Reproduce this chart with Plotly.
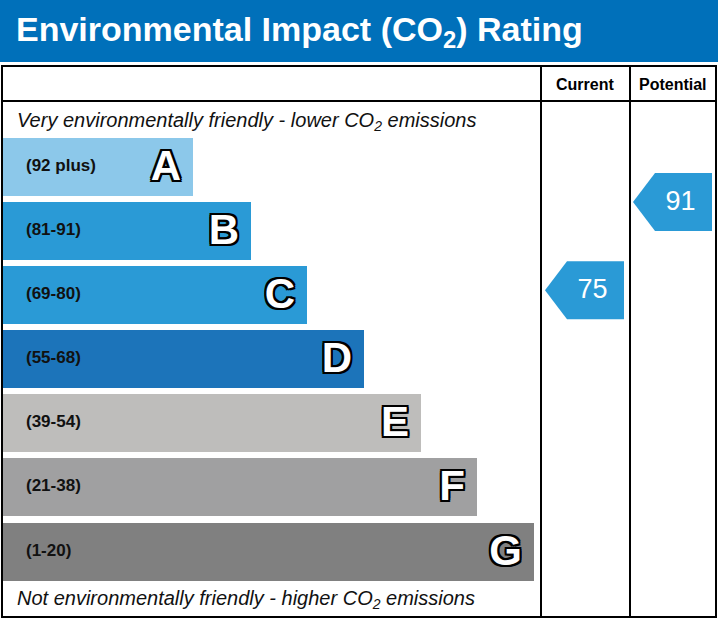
import plotly.graph_objects as go

bands = ["A", "B", "C", "D", "E", "F", "G"]
ranges = ["(92 plus)", "(81-91)", "(69-80)", "(55-68)", "(39-54)", "(21-38)", "(1-20)"]
lows = [92, 81, 69, 55, 39, 21, 1]
highs = [100, 91, 80, 68, 54, 38, 20]
band_colors = ["#8CC8EA", "#2A9AD6", "#2A9AD6", "#1C74BA", "#BEBDBB", "#A0A0A1", "#808080"]
current = 75
potential = 91

W, H = 718, 619
x0 = 2
tops = [138, 202, 266, 330, 394, 458, 523]
bh = 58
ends = [193, 251, 307, 364, 421, 477, 534]

fig = go.Figure()
centers = [t + bh / 2 for t in tops]
fig.add_trace(go.Bar(orientation="h", y=centers, x=[e - x0 for e in ends], base=x0, width=bh,
                     marker=dict(color=band_colors, line=dict(width=0)), hoverinfo="skip"))
fig.add_trace(go.Scatter(x=[26] * 7, y=centers, mode="text", text=ranges, textposition="middle right",
                         textfont=dict(family="Liberation Sans", size=17, color="#111", weight="bold")))
outline = ",".join(f"{dx}px {dy}px 0 #000" for dx in (-2, 0, 2) for dy in (-2, 0, 2) if dx or dy)
fig.add_trace(go.Scatter(x=[e - 12 for e in ends], y=[c + 2 for c in centers], mode="text", text=bands,
                         textposition="middle left",
                         textfont=dict(family="Liberation Sans", size=42, color="white", weight="bold", shadow=outline)))

def ypos(v):
    for lo, hi, t in zip(lows, highs, tops):
        if lo <= v <= hi:
            return t + (hi - v) / (hi - lo + 1) * bh
    return tops[-1]

def arrow(v, xl, xr):
    yc = ypos(v)
    xs = [xl, xl + 22, xr, xr, xl + 22, xl]
    ys = [yc, yc - 29, yc - 29, yc + 29, yc + 29, yc]
    fig.add_trace(go.Scatter(x=xs, y=ys, fill="toself", mode="lines", line=dict(width=0),
                             fillcolor="#2A9AD6", hoverinfo="skip"))
    fig.add_trace(go.Scatter(x=[(xl + xr) / 2 + 8], y=[yc + 1], mode="text", text=[str(v)],
                             textfont=dict(family="Liberation Sans", size=27, color="white")))

arrow(current, 545, 624)
arrow(potential, 633, 712)

shapes = [
    dict(type="rect", x0=0, x1=W, y0=0, y1=62, fillcolor="#0070BA", line=dict(width=0)),
    dict(type="rect", x0=2, x1=716, y0=66, y1=617, line=dict(color="#000", width=2)),
    dict(type="line", x0=541, x1=541, y0=66, y1=617, line=dict(color="#000", width=2)),
    dict(type="line", x0=630, x1=630, y0=66, y1=617, line=dict(color="#000", width=2)),
    dict(type="line", x0=2, x1=716, y0=101, y1=101, line=dict(color="#000", width=2)),
]
ann = [
    dict(x=14, y=31, text="Environmental Impact (CO<sub>2</sub>) Rating", xanchor="left", yanchor="middle",
         font=dict(family="Liberation Sans", size=34, color="white", weight="bold")),
    dict(x=585, y=84, text="Current", font=dict(family="Liberation Sans", size=16, color="#000", weight="bold")),
    dict(x=673, y=84, text="Potential", font=dict(family="Liberation Sans", size=16, color="#000", weight="bold")),
    dict(x=15, y=121, xanchor="left", text="<i>Very environmentally friendly - lower CO<sub>2</sub> emissions</i>",
         font=dict(family="Liberation Sans", size=20, color="#111")),
    dict(x=15, y=599, xanchor="left", text="<i>Not environmentally friendly - higher CO<sub>2</sub> emissions</i>",
         font=dict(family="Liberation Sans", size=20, color="#111")),
]
for a in ann:
    a.update(xref="x", yref="y", showarrow=False)

fig.update_layout(width=W, height=H, margin=dict(l=0, r=0, t=0, b=0), showlegend=False,
                  plot_bgcolor="white", paper_bgcolor="white", shapes=shapes, annotations=ann,
                  xaxis=dict(range=[0, W], visible=False, fixedrange=True),
                  yaxis=dict(range=[H, 0], visible=False, fixedrange=True), bargap=0)
fig.write_html("out.html", config=dict(displayModeBar=False),
               post_script="document.body.style.margin='0';document.body.style.overflow='hidden';")
